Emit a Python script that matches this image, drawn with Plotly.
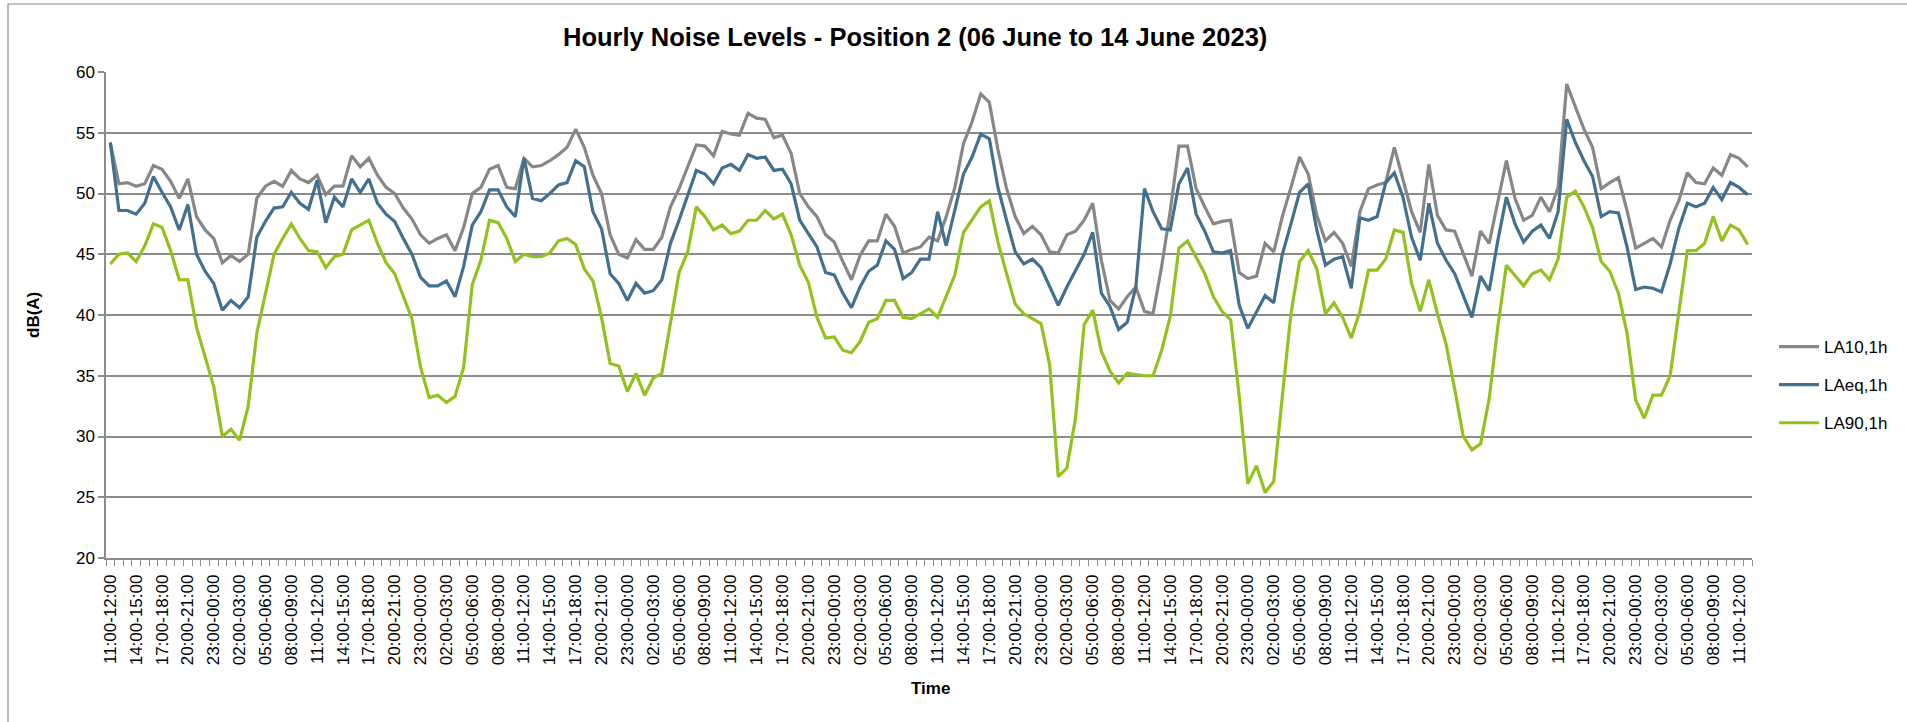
import plotly.graph_objects as go

# ---- data ----
start_day = 6
start_hour = 11
missing_hours = [(13, 13), (13, 14), (13, 15)]  # (day, hour) slots absent on 13 June

la10 = [54.2, 50.8, 50.9, 50.6, 50.8, 52.3, 52.0, 51.0, 49.6, 51.2, 48.1, 47.0, 46.3, 44.3, 44.9, 44.4, 45.0, 49.6, 50.6, 51.0,
        50.6, 51.9, 51.2, 50.9, 51.5, 49.9, 50.6, 50.6, 53.1, 52.2, 52.9, 51.5, 50.5, 50.0, 48.8, 47.9, 46.6, 45.9, 46.3, 46.6,
        45.3, 47.2, 50.0, 50.5, 52.0, 52.3, 50.5, 50.4, 52.9, 52.2, 52.3, 52.7, 53.2, 53.8, 55.3, 53.8, 51.5, 50.0, 46.6, 45.0,
        44.7, 46.2, 45.4, 45.4, 46.4, 48.9, 50.4, 52.2, 54.0, 53.9, 53.1, 55.1, 54.9, 54.8, 56.6, 56.2, 56.1, 54.6, 54.8, 53.3,
        50.0, 48.9, 48.1, 46.6, 46.0, 44.4, 42.9, 44.9, 46.1, 46.1, 48.3, 47.3, 45.1, 45.4, 45.6, 46.4, 46.1, 48.1, 50.5, 54.1,
        55.9, 58.2, 57.5, 53.6, 50.4, 48.1, 46.7, 47.3, 46.6, 45.2, 45.1, 46.6, 46.9, 47.8, 49.2, 44.5, 41.2, 40.5, 41.5, 42.3,
        40.3, 40.1, 44.0, 48.6, 53.9, 53.9, 50.4, 48.9, 47.5, 47.7, 47.8, 43.5, 43.0, 43.2, 45.9, 45.2, 48.1, 50.5, 53.0, 51.6,
        48.2, 46.1, 46.8, 45.9, 44.0, 48.5, 50.4, 50.7, 50.9, 53.8, 51.2, 48.5, 46.8, 52.4, 48.2, 47.0, 46.9, 45.0, 43.2, 46.9,
        45.9, 49.3, 52.7, 49.6, 47.8, 48.2, 49.7, 48.5, 50.5, 59.0, 57.1, 55.3, 53.8, 50.4, 50.9, 51.3, 48.6, 45.5, 45.9, 46.3,
        45.6, 47.8, 49.4, 51.7, 50.9, 50.8, 52.1, 51.5, 53.2, 52.9, 52.2]

laeq = [54.2, 48.6, 48.6, 48.3, 49.2, 51.4, 50.1, 48.9, 47.0, 49.1, 45.0, 43.6, 42.6, 40.4, 41.2, 40.6, 41.5, 46.4, 47.7, 48.8,
        48.9, 50.1, 49.2, 48.7, 51.1, 47.6, 49.7, 48.9, 51.2, 50.1, 51.2, 49.2, 48.3, 47.7, 46.3, 45.0, 43.1, 42.4, 42.4, 42.8,
        41.5, 44.0, 47.4, 48.5, 50.3, 50.3, 48.9, 48.1, 52.9, 49.6, 49.4, 50.0, 50.7, 50.9, 52.7, 52.2, 48.5, 47.1, 43.4, 42.6,
        41.2, 42.6, 41.8, 42.0, 42.9, 45.9, 47.8, 49.8, 51.9, 51.6, 50.8, 52.1, 52.4, 51.9, 53.2, 52.9, 53.0, 51.9, 52.0, 50.8,
        47.8, 46.7, 45.6, 43.5, 43.3, 41.8, 40.6, 42.3, 43.6, 44.1, 46.1, 45.4, 43.0, 43.5, 44.6, 44.6, 48.5, 45.7, 48.6, 51.6,
        53.0, 54.9, 54.5, 50.5, 47.8, 45.2, 44.2, 44.6, 43.9, 42.3, 40.8, 42.3, 43.6, 45.0, 46.8, 41.8, 40.7, 38.8, 39.4, 42.3,
        50.4, 48.5, 47.1, 47.0, 50.8, 52.1, 48.3, 46.9, 45.2, 45.1, 45.3, 40.8, 38.9, 40.2, 41.6, 41.0, 45.0, 47.5, 50.1, 50.8,
        47.0, 44.1, 44.6, 44.8, 42.2, 48.0, 47.8, 48.1, 50.9, 51.7, 49.7, 46.4, 44.5, 49.2, 45.9, 44.5, 43.4, 41.6, 39.8, 43.2,
        42.0, 46.1, 49.7, 47.5, 46.0, 46.9, 47.4, 46.3, 48.5, 56.1, 54.2, 52.7, 51.4, 48.1, 48.5, 48.4, 45.6, 42.1, 42.3, 42.2,
        41.9, 44.2, 47.1, 49.2, 48.9, 49.2, 50.5, 49.5, 50.9, 50.5, 49.9]

la90 = [44.2, 45.0, 45.1, 44.4, 45.7, 47.5, 47.2, 45.3, 42.9, 42.9, 39.0, 36.5, 34.1, 30.0, 30.6, 29.7, 32.5, 38.5, 41.8, 45.0,
        46.3, 47.5, 46.3, 45.3, 45.2, 43.9, 44.8, 45.0, 47.0, 47.4, 47.8, 45.9, 44.3, 43.4, 41.6, 39.7, 35.7, 33.2, 33.4, 32.8,
        33.3, 35.7, 42.5, 44.5, 47.8, 47.6, 46.3, 44.4, 45.0, 44.8, 44.8, 45.1, 46.1, 46.3, 45.8, 43.8, 42.8, 39.8, 36.0, 35.8,
        33.7, 35.2, 33.4, 34.8, 35.2, 39.3, 43.5, 45.2, 48.9, 48.1, 47.0, 47.4, 46.7, 46.9, 47.8, 47.8, 48.6, 47.9, 48.3, 46.6,
        44.1, 42.7, 39.8, 38.1, 38.2, 37.1, 36.9, 37.8, 39.4, 39.7, 41.2, 41.2, 39.8, 39.7, 40.1, 40.5, 39.8, 41.5, 43.3, 46.8,
        47.9, 48.9, 49.4, 46.0, 43.4, 40.9, 40.1, 39.7, 39.3, 35.9, 26.7, 27.4, 31.5, 39.2, 40.4, 37.0, 35.4, 34.4, 35.2, 35.1,
        35.0, 35.0, 37.1, 39.9, 45.5, 46.1, 44.8, 43.4, 41.5, 40.3, 39.6, 33.3, 26.1, 27.6, 25.4, 26.3, 33.3, 40.1, 44.4, 45.3,
        43.8, 40.1, 41.0, 39.8, 38.1, 40.3, 43.7, 43.7, 44.6, 47.0, 46.8, 42.6, 40.3, 42.9, 40.1, 37.6, 33.9, 30.0, 28.9, 29.4,
        33.1, 39.0, 44.1, 43.2, 42.4, 43.4, 43.7, 42.9, 44.6, 49.7, 50.2, 48.9, 47.2, 44.4, 43.6, 41.8, 38.5, 33.0, 31.5, 33.4,
        33.4, 35.0, 40.0, 45.3, 45.3, 45.9, 48.1, 46.1, 47.4, 47.0, 45.8]

# ---- hourly category labels ----
categories = []
day, hour = start_day, start_hour
while len(categories) < len(la10):
    if (day, hour) not in missing_hours:
        categories.append(f"{hour:02d}:00-{(hour + 1) % 24:02d}:00")
    hour += 1
    if hour == 24:
        hour = 0
        day += 1

x = list(range(len(categories)))
tick_idx = x[::3]
tick_text = [categories[i] for i in tick_idx]

FONT = "Liberation Sans"
GRID = "#8c8c8c"

fig = go.Figure()
series = [("LA10,1h", la10, "#878787"), ("LAeq,1h", laeq, "#44708f"), ("LA90,1h", la90, "#95c11f")]
for k, (name, vals, col) in enumerate(series):
    fig.add_trace(go.Scatter(x=x, y=vals, name=name, mode="lines", legendgroup=name,
                             line=dict(color=col, width=3.2)))

W, H = 1907, 722
L, R, T, B = 106, 155, 72, 164
pw, ph = W - L - R, H - T - B

def px_x(p):
    return (p - L) / pw

def px_y(p):
    return (H - B - p) / ph

fig.update_layout(
    width=W, height=H,
    margin=dict(l=L, r=R, t=T, b=B, pad=0),
    paper_bgcolor="white", plot_bgcolor="white",
    font=dict(family=FONT, size=17, color="#000000"),
    showlegend=True,
    legend=dict(x=px_x(1774), y=px_y(329), xanchor="left", yanchor="top",
                font=dict(family=FONT, size=17, color="#000000"),
                tracegroupgap=13, bgcolor="rgba(0,0,0,0)", itemwidth=40),
    xaxis=dict(range=[-0.5, len(x) - 0.5], tickmode="array", tickvals=tick_idx, ticktext=tick_text,
               tickangle=-90, ticks="", showgrid=False, zeroline=False,
               showline=True, linecolor=GRID, linewidth=1.5, ticklabelstandoff=8,
               tickfont=dict(family=FONT, size=17, color="#000000"),
               minor=dict(ticks="outside", tickmode="linear", tick0=-0.5, dtick=1, ticklen=6,
                          tickcolor=GRID, tickwidth=1, showgrid=False)),
    yaxis=dict(range=[20, 60], dtick=5, tick0=20, showgrid=True, gridcolor=GRID, gridwidth=1.5,
               zeroline=False, showline=True, linecolor=GRID, linewidth=1.5,
               ticks="outside", ticklen=6, tickcolor=GRID, tickwidth=1.5,
               tickfont=dict(family=FONT, size=17, color="#000000")),
    shapes=[dict(type="rect", xref="paper", yref="paper",
                 x0=px_x(8), x1=px_x(1910), y0=px_y(730), y1=px_y(4),
                 line=dict(color="#8a8a8a", width=1.2), fillcolor="rgba(0,0,0,0)", layer="below")],
    annotations=[
        dict(text="<b>Hourly Noise Levels - Position 2 (06 June to 14 June 2023)</b>", xref="paper", yref="paper",
             x=px_x(915), y=px_y(37), xanchor="center", yanchor="middle", showarrow=False,
             font=dict(family=FONT, size=25.5, color="#000000")),
        dict(text="<b>dB(A)</b>", xref="paper", yref="paper", x=px_x(33), y=px_y(315), textangle=-90,
             xanchor="center", yanchor="middle", showarrow=False, font=dict(family=FONT, size=17, color="#000000")),
        dict(text="<b>Time</b>", xref="paper", yref="paper", x=px_x(930), y=px_y(688),
             xanchor="center", yanchor="middle", showarrow=False, font=dict(family=FONT, size=17, color="#000000")),
    ],
)

fig.write_html("out.html", config={"displayModeBar": False},
               post_script="document.body.style.margin='0';document.body.style.overflow='hidden';")
